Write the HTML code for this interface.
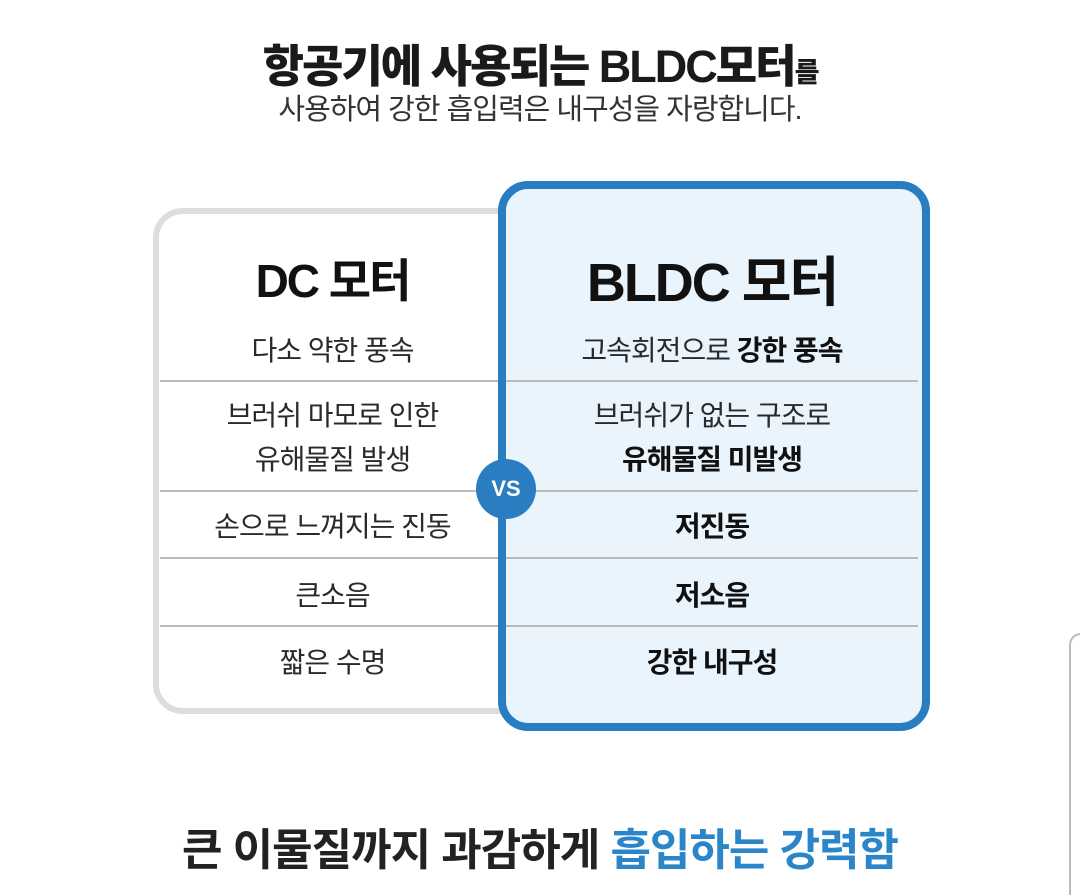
<!DOCTYPE html>
<html><head><meta charset="utf-8"><style>
body{margin:0;width:1080px;height:886px;background:#fff;position:relative;overflow:hidden;font-family:"Liberation Sans","Noto Sans CJK KR",sans-serif;color:#222}
.a{position:absolute}
.c{text-align:center}
.t{font-size:28px;color:#2a2a2a;letter-spacing:-1px}
.b{font-weight:bold;color:#111}
.ln{position:absolute;height:2px;background:#bbb}
</style></head><body>
<div class="a c" style="left:0;width:1080px;top:30px;font-size:45px;font-weight:900;letter-spacing:-2px;color:#1a1a1a">항공기에 사용되는 BLDC모터<span style="font-size:27px">를</span></div>
<div class="a c" style="left:0;width:1080px;top:86px;font-size:29px;letter-spacing:-1px;color:#333">사용하여 강한 흡입력은 내구성을 자랑합니다.</div>

<div class="a" style="left:153px;top:208px;width:380px;height:494px;border:6px solid #ddd;border-radius:30px;box-sizing:content-box;background:#fff"></div>
<div class="ln" style="left:160px;width:338px;top:380px"></div>
<div class="ln" style="left:160px;width:338px;top:490px"></div>
<div class="ln" style="left:160px;width:338px;top:557px"></div>
<div class="ln" style="left:160px;width:338px;top:625px"></div>
<div class="a" style="left:498px;top:181px;width:416px;height:534px;border:8px solid #2a7dc0;border-radius:30px;background:#eaf4fc"></div>

<div class="ln" style="left:506px;width:412px;top:380px"></div>
<div class="ln" style="left:506px;width:412px;top:490px"></div>
<div class="ln" style="left:506px;width:412px;top:557px"></div>
<div class="ln" style="left:506px;width:412px;top:625px"></div>

<div class="a c b" style="left:160px;width:345px;top:245px;font-size:46px;letter-spacing:-2px">DC 모터</div>
<div class="a c b" style="left:506px;width:412px;top:238px;font-size:54px;letter-spacing:-2px">BLDC 모터</div>

<div class="a c t" style="left:160px;width:345px;top:329px">다소 약한 풍속</div>
<div class="a c t" style="left:160px;width:345px;top:394px;line-height:44px">브러쉬 마모로 인한<br>유해물질 발생</div>
<div class="a c t" style="left:160px;width:345px;top:505px">손으로 느껴지는 진동</div>
<div class="a c t" style="left:160px;width:345px;top:574px">큰소음</div>
<div class="a c t" style="left:160px;width:345px;top:641px">짧은 수명</div>

<div class="a c t" style="left:506px;width:412px;top:329px">고속회전으로 <b style="color:#111">강한 풍속</b></div>
<div class="a c t" style="left:506px;width:412px;top:394px;line-height:44px">브러쉬가 없는 구조로<br><b style="color:#111">유해물질 미발생</b></div>
<div class="a c t b" style="left:506px;width:412px;top:505px">저진동</div>
<div class="a c t b" style="left:506px;width:412px;top:574px">저소음</div>
<div class="a c t b" style="left:506px;width:412px;top:641px">강한 내구성</div>

<div class="a c" style="left:476px;top:459px;width:60px;height:60px;border-radius:50%;background:#2a7dc0;color:#fff;font-weight:bold;font-size:22px;line-height:60px">VS</div>

<div class="a c" style="left:0;width:1080px;top:814px;font-size:44px;font-weight:bold;letter-spacing:-1px;color:#222">큰 이물질까지 과감하게 <span style="color:#2a86c8">흡입하는 강력함</span></div>

<div class="a" style="left:1069px;top:633px;width:20px;height:260px;border-left:2px solid #bbb;border-top:2px solid #bbb;border-top-left-radius:12px"></div>
</body></html>
